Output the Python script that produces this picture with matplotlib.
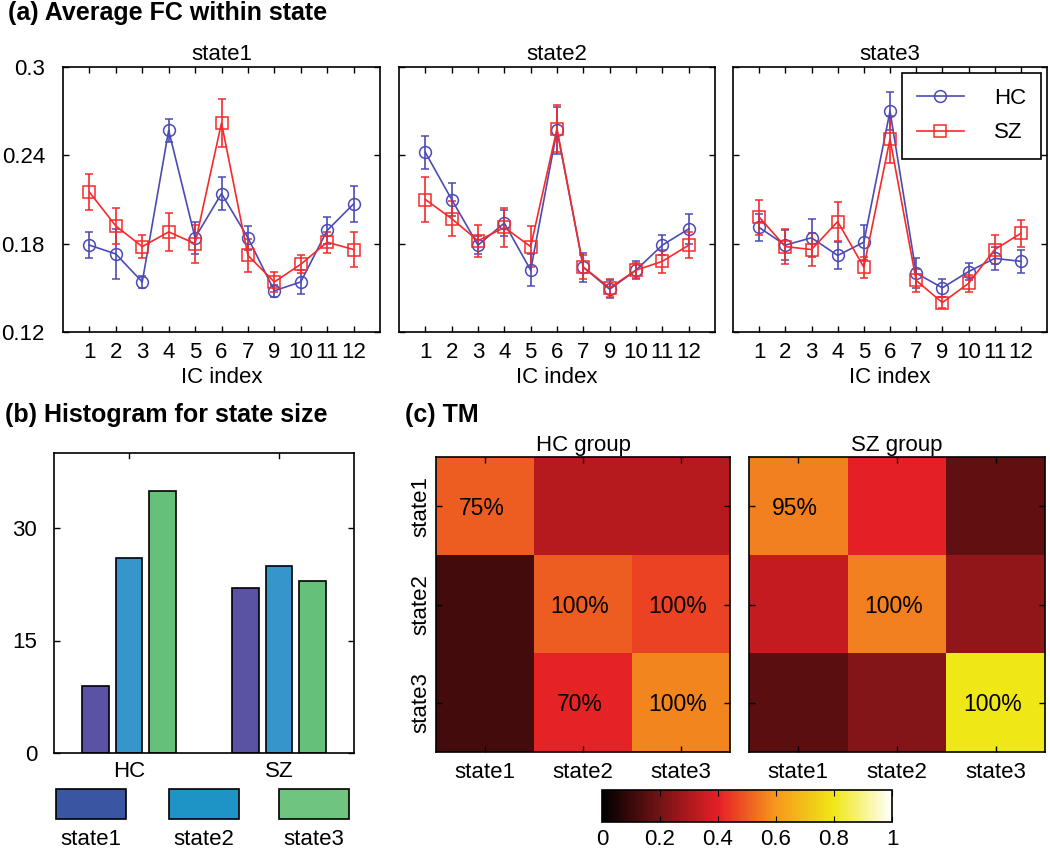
import numpy as np
import matplotlib
matplotlib.use("Agg")
import matplotlib.pyplot as plt
from matplotlib.colors import LinearSegmentedColormap
from matplotlib.patches import Rectangle

plt.rcParams['font.family'] = ['Liberation Sans', 'DejaVu Sans']
plt.rcParams['font.size'] = 16

# ---- data ----
ic_labels = ['1', '2', '3', '4', '5', '6', '7', '9', '10', '11', '12']

hc_fc_state1 = [0.179, 0.173, 0.154, 0.257, 0.184, 0.214, 0.184, 0.148, 0.154, 0.189, 0.207]
hc_err_state1 = [0.009, 0.017, 0.004, 0.008, 0.011, 0.011, 0.008, 0.004, 0.008, 0.009, 0.012]
sz_fc_state1 = [0.215, 0.192, 0.178, 0.188, 0.180, 0.262, 0.172, 0.154, 0.166, 0.181, 0.176]
sz_err_state1 = [0.012, 0.012, 0.008, 0.013, 0.013, 0.016, 0.011, 0.007, 0.006, 0.007, 0.012]

hc_fc_state2 = [0.242, 0.210, 0.179, 0.194, 0.162, 0.257, 0.164, 0.149, 0.162, 0.179, 0.190]
hc_err_state2 = [0.011, 0.011, 0.006, 0.009, 0.011, 0.016, 0.010, 0.006, 0.006, 0.007, 0.010]
sz_fc_state2 = [0.210, 0.197, 0.182, 0.191, 0.178, 0.258, 0.164, 0.150, 0.162, 0.168, 0.179]
sz_err_state2 = [0.015, 0.012, 0.011, 0.013, 0.014, 0.016, 0.008, 0.006, 0.005, 0.008, 0.009]

hc_fc_state3 = [0.191, 0.179, 0.184, 0.172, 0.181, 0.270, 0.160, 0.150, 0.161, 0.170, 0.168]
hc_err_state3 = [0.009, 0.010, 0.013, 0.009, 0.012, 0.013, 0.010, 0.006, 0.006, 0.008, 0.008]
sz_fc_state3 = [0.198, 0.178, 0.176, 0.195, 0.164, 0.251, 0.155, 0.140, 0.153, 0.176, 0.187]
sz_err_state3 = [0.012, 0.012, 0.011, 0.013, 0.007, 0.016, 0.008, 0.004, 0.006, 0.010, 0.009]

groups = ['HC', 'SZ']
state_names = ['state1', 'state2', 'state3']
state1_size = [9, 22]
state2_size = [26, 25]
state3_size = [35, 23]

tm_hc = [[0.50, 0.32, 0.32],
         [0.12, 0.50, 0.46],
         [0.12, 0.41, 0.57]]
tm_sz = [[0.56, 0.40, 0.17],
         [0.34, 0.56, 0.25],
         [0.16, 0.23, 0.80]]
tm_hc_text = [['75%', '', ''], ['', '100%', '100%'], ['', '70%', '100%']]
tm_sz_text = [['95%', '', ''], ['', '100%', ''], ['', '', '100%']]

# ---- style ----
hc_color = '#4b4bb5'
sz_color = '#f52a2a'
bar_colors = ['#5a52a3', '#3696cc', '#65c17a']
legend_colors = ['#3a56a2', '#1e94c6', '#6fc47f']
tm_cmap = LinearSegmentedColormap.from_list(
    'tm', [(0, '#000000'), (0.2, '#741315'), (0.4, '#e51f26'),
           (0.6, '#f6981d'), (0.8, '#f0e716'), (1, '#ffffff')])

W, H = 1050, 852
fig = plt.figure(figsize=(W / 100, H / 100), dpi=100)


def box(l, t, r, b):
    return [l / W, 1 - b / H, (r - l) / W, (b - t) / H]


def matlab_ticks(ax):
    ax.tick_params(direction='in', top=True, right=True, length=4, width=1)
    for s in ax.spines.values():
        s.set_linewidth(1.2)


# ---- (a) ----
fig.text(8 / W, 1 - 13 / H, '(a) Average FC within state', fontsize=18,
         fontweight='bold', va='center', ha='left')

x = np.arange(1, len(ic_labels) + 1)
panels = [
    (box(63, 67, 380, 332), 'state1', hc_fc_state1, hc_err_state1, sz_fc_state1, sz_err_state1),
    (box(399, 67, 715, 332), 'state2', hc_fc_state2, hc_err_state2, sz_fc_state2, sz_err_state2),
    (box(733, 67, 1047, 332), 'state3', hc_fc_state3, hc_err_state3, sz_fc_state3, sz_err_state3),
]
for i, (rect, title, hc, hce, sz, sze) in enumerate(panels):
    ax = fig.add_axes(rect)
    h1 = ax.errorbar(x, hc, yerr=hce, color=hc_color, marker='o', mfc='none',
                     ms=8.5, lw=1.2, capsize=3, elinewidth=1.2, mew=1.1)
    h2 = ax.errorbar(x, sz, yerr=sze, color=sz_color, marker='s', mfc='none',
                     ms=8, lw=1.2, capsize=3, elinewidth=1.2, mew=1.1)
    ax.set_xlim(0, 12)
    ax.set_ylim(0.12, 0.3)
    ax.set_xticks(x)
    ax.set_xticklabels(ic_labels)
    ax.set_yticks([0.12, 0.18, 0.24, 0.3])
    if i == 0:
        ax.set_yticklabels(['0.12', '0.18', '0.24', '0.3'])
    else:
        ax.set_yticklabels([])
    matlab_ticks(ax)
    ax.tick_params(axis='x', pad=7)
    ax.tick_params(axis='y', pad=13)
    ax.set_xlabel('IC index', labelpad=3)
    ax.set_title(title, pad=5, fontsize=16)
    if i == 2:
        leg = ax.legend([h1[0], h2[0]], ['HC', 'SZ'], loc='upper right',
                        fancybox=False, edgecolor='black', numpoints=1,
                        handlelength=2.1, handletextpad=1.35, labelspacing=0.6,
                        borderaxespad=0.25, fontsize=16, framealpha=1,
                        borderpad=0.7)
        leg.get_frame().set_linewidth(1.2)

# ---- (b) ----
fig.text(5 / W, 1 - 415 / H, '(b) Histogram for state size', fontsize=18,
         fontweight='bold', va='center', ha='left')
axb = fig.add_axes(box(54, 453, 354, 753))
gx = np.arange(1, len(groups) + 1)
offsets = [-0.225, 0, 0.225]
for j, vals in enumerate([state1_size, state2_size, state3_size]):
    axb.bar(gx + offsets[j], vals, width=0.18, color=bar_colors[j],
            edgecolor='black', linewidth=1.2)
axb.set_xlim(0.5, 2.5)
axb.set_ylim(0, 40)
axb.set_xticks(gx)
axb.set_xticklabels(groups)
axb.set_yticks([0, 15, 30])
matlab_ticks(axb)
axb.tick_params(axis='x', length=0, pad=6)
axb.tick_params(axis='y', pad=12)
for gxi in gx:
    axb.plot([gxi, gxi], [40, 39.3], color='black', lw=1)

# legend under the bars: patch with label beneath
axl = fig.add_axes(box(54, 780, 354, 852))
axl.set_xlim(0, 1)
axl.set_ylim(0, 1)
axl.axis('off')
for j, name in enumerate(state_names):
    x0 = [0.007, 0.383, 0.75][j]
    axl.add_patch(Rectangle((x0, 0.458), 0.233, 0.417, facecolor=legend_colors[j],
                            edgecolor='black', lw=1.2))
    axl.text(x0 + 0.1165, 0.17, name, ha='center', va='center', fontsize=16)

# ---- (c) ----
fig.text(405 / W, 1 - 415 / H, '(c) TM', fontsize=18, fontweight='bold',
         va='center', ha='left')
heat = [(box(436, 457, 730, 752), 'HC group', tm_hc, tm_hc_text),
        (box(749, 457, 1045, 752), 'SZ group', tm_sz, tm_sz_text)]
for k, (rect, title, mat, labels) in enumerate(heat):
    ax = fig.add_axes(rect)
    im = ax.imshow(np.array(mat), cmap=tm_cmap, vmin=0, vmax=1, aspect='auto')
    ax.set_xticks(range(3))
    ax.set_xticklabels(state_names)
    ax.set_yticks(range(3))
    if k == 0:
        ax.set_yticklabels(state_names, rotation=90, va='center')
    else:
        ax.set_yticklabels([])
    matlab_ticks(ax)
    ax.tick_params(axis='x', pad=7)
    ax.tick_params(axis='y', pad=3)
    ax.set_title(title, pad=4, fontsize=16)
    for r in range(3):
        for c in range(3):
            if labels[r][c]:
                ax.text(c - 0.03, r + 0.02, labels[r][c], ha='center',
                        va='center', fontsize=16.5)

cax = fig.add_axes(box(602, 790, 892, 822))
cb = fig.colorbar(im, cax=cax, orientation='horizontal',
                  ticks=[0, 0.2, 0.4, 0.6, 0.8, 1])
cb.ax.set_xticklabels(['0', '0.2', '0.4', '0.6', '0.8', '1'])
cb.ax.tick_params(direction='in', top=True, bottom=True, length=4, pad=5,
                  labelsize=16)
cb.outline.set_linewidth(1.2)

fig.savefig('out.png', dpi=100)
